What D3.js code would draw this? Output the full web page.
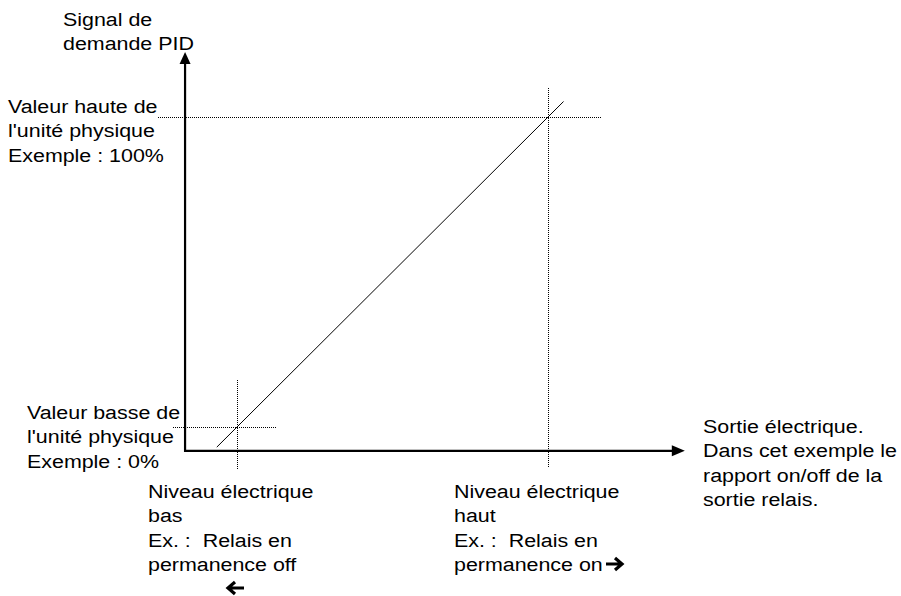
<!DOCTYPE html>
<html>
<head>
<meta charset="utf-8">
<script src="https://cdn.jsdelivr.net/npm/d3@7"></script>
<style>
  body { margin: 0; background: #fff; }
  svg text { font-family: "Liberation Sans", Arial, sans-serif; font-size: 18px; fill: #000; white-space: pre; }
</style>
</head>
<body>
<svg id="chart" width="901" height="596"></svg>
<script>
(function(){
const width = 901;
const height = 596;

// --- Data (both axes in %: low level = 0, high level = 100) ---
const axisXExtent = [-16.7, 144];
const axisYExtent = [-7.7, 121];
const lineX = [-6.5, 105];
const lineY = [-6.5, 105];
const levels = [0, 100];                       // low / high reference points
const hGuideX = [[-20.5, 13], [-25.5, 117.5]]; // horizontal dotted extents
const vGuideY = [[-13.5, 15.5], [-13, 109.5]]; // vertical dotted extents

const yTitle = ["Signal de", "demande PID"];
const yLabels = [
  ["Valeur basse de", "l'unité physique", "Exemple : 0%"],
  ["Valeur haute de", "l'unité physique", "Exemple : 100%"]
];
const xLabels = [
  ["Niveau électrique", "bas", "Ex. :  Relais en", "permanence off"],
  ["Niveau électrique", "haut", "Ex. :  Relais en", "permanence on"]
];
const xTitle = ["Sortie électrique.", "Dans cet exemple le", "rapport on/off de la", "sortie relais."];

// --- Scales ---
const x = d3.scaleLinear().domain([0, 100]).range([237, 548]);
const y = d3.scaleLinear().domain([0, 100]).range([427, 117]);

const svg = d3.select("#chart");
const stretch = 1.19;
const lineH = 24.3;

// --- Dotted guides ---
const guides = svg.append("g")
  .attr("stroke", "#000")
  .attr("stroke-width", 1)
  .attr("stroke-dasharray", "1,1")
  .attr("shape-rendering", "crispEdges");

guides.selectAll("line.h")
  .data(levels)
  .enter()
  .append("line")
  .attr("class", "h")
  .attr("x1", (d, i) => x(hGuideX[i][0]))
  .attr("x2", (d, i) => x(hGuideX[i][1]))
  .attr("y1", d => Math.round(y(d)) + 0.5)
  .attr("y2", d => Math.round(y(d)) + 0.5);

guides.selectAll("line.v")
  .data(levels)
  .enter()
  .append("line")
  .attr("class", "v")
  .attr("x1", d => Math.round(x(d)) + 0.5)
  .attr("x2", d => Math.round(x(d)) + 0.5)
  .attr("y1", (d, i) => y(vGuideY[i][0]))
  .attr("y2", (d, i) => y(vGuideY[i][1]));

// --- Diagonal ---
svg.append("line")
  .attr("x1", x(lineX[0]))
  .attr("y1", y(lineY[0]))
  .attr("x2", x(lineX[1]))
  .attr("y2", y(lineY[1]))
  .attr("stroke", "#000")
  .attr("stroke-width", 1);

// --- Axes with arrowheads ---
const x0 = x(axisXExtent[0]);
const y0 = y(axisYExtent[0]);
const xEnd = x(axisXExtent[1]);
const yEnd = y(axisYExtent[1]);

svg.append("path")
  .attr("d", `M${x0},${yEnd + 10} L${x0},${y0} L${xEnd - 12},${y0}`)
  .attr("fill", "none")
  .attr("stroke", "#000")
  .attr("stroke-width", 2.2);

svg.append("path")
  .attr("d", `M${x0},${yEnd} L${x0 - 5.5},${yEnd + 12} L${x0 + 5.5},${yEnd + 12} Z`)
  .attr("fill", "#000");

svg.append("path")
  .attr("d", `M${xEnd},${y0} L${xEnd - 13},${y0 - 5.5} L${xEnd - 13},${y0 + 5.5} Z`)
  .attr("fill", "#000");

// --- Text blocks ---
function block(lines, px, py) {
  const g = svg.append("g");
  g.selectAll("text")
    .data(lines)
    .enter()
    .append("text")
    .attr("xml:space", "preserve")
    .attr("transform", (d, i) => `translate(${px},${py + i * lineH}) scale(${stretch},1)`)
    .text(d => d);
  return g;
}

block(yTitle, 63, 26);
block(yLabels[1], 8, y(100) - 4);
block(yLabels[0], 27, y(0) - 8);
block(xLabels[0], 148, 498);
block(xLabels[1], 454, 498);
block(xTitle, 703, 433);

// bold arrows next to the electrical level labels
function boldArrow(cx, cy, dir) {
  const s = dir;
  svg.append("path")
    .attr("d", `M${cx - 8 * s},${cy} L${cx + 7 * s},${cy} M${cx + 1 * s},${cy - 6} L${cx + 8 * s},${cy} L${cx + 1 * s},${cy + 6}`)
    .attr("fill", "none")
    .attr("stroke", "#000")
    .attr("stroke-width", 3.2)
    .attr("stroke-linejoin", "miter");
}
boldArrow(614, 564, 1);
boldArrow(236, 588, -1);
})();
</script>
</body>
</html>
